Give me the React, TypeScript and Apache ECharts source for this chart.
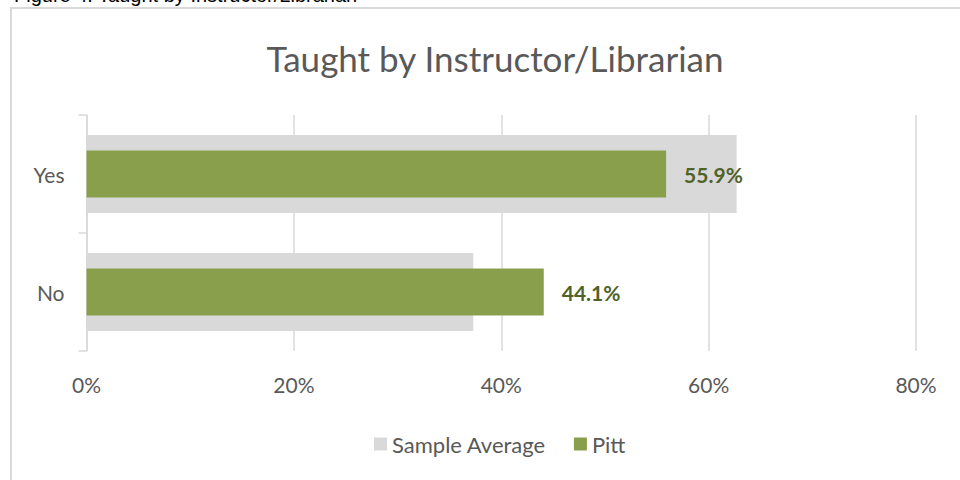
import React, { useEffect, useRef } from "react";
import * as echarts from "echarts";

const categories = ["Yes", "No"];
const sampleAverage = [62.7, 37.3];
const pitt = [55.9, 44.1];
const xTicks = [0, 20, 40, 60, 80];
const chartTitle = "Taught by Instructor/Librarian";
const caption = "Figure 4. Taught by Instructor/Librarian";

const FONT = "Lato, 'Open Sans', sans-serif";
const GREY = "#595959";

export default function App() {
  const ref = useRef<HTMLDivElement>(null);
  useEffect(() => {
    if (!ref.current) return;
    const chart = echarts.init(ref.current, null, { renderer: "svg" });
    const catAxisBase = {
      type: "category",
      data: categories,
      inverse: true,
    };
    chart.setOption({
      animation: false,
      backgroundColor: "#ffffff",
      textStyle: { fontFamily: FONT },
      title: {
        text: chartTitle,
        left: 490,
        top: 35,
        textAlign: "center",
        textStyle: { fontFamily: FONT, fontSize: 35, fontWeight: "normal", color: GREY },
      },
      legend: {
        left: 369,
        top: 428,
        itemWidth: 13,
        itemHeight: 13,
        itemGap: 28,
        icon: "rect",
        textStyle: { fontFamily: FONT, fontSize: 22, color: GREY, padding: [0, 0, 0, 0] },
        data: ["Sample Average", "Pitt"],
      },
      graphic: [
        {
          type: "text",
          left: 14,
          top: -15,
          style: { text: caption, font: "20px 'Liberation Sans', Arial, sans-serif", fill: "#000" },
        },
        {
          type: "rect",
          shape: { x: 11, y: 8, width: 1000, height: 500 },
          style: { fill: "none", stroke: "#d9d9d9", lineWidth: 2 },
          z: -1,
        },
      ],
      grid: { left: 86.5, right: 44, top: 115, bottom: 129 },
      xAxis: {
        type: "value",
        min: xTicks[0],
        max: xTicks[xTicks.length - 1],
        interval: 20,
        axisLine: { show: false },
        axisTick: { show: false },
        axisLabel: {
          formatter: (v: number) => v + "%",
          fontFamily: FONT,
          fontSize: 21,
          color: GREY,
          margin: 23,
        },
        splitLine: { show: true, lineStyle: { color: "#d9d9d9", width: 1.5 } },
      },
      yAxis: [
        {
          ...catAxisBase,
          axisLine: { show: true, lineStyle: { color: "#d9d9d9", width: 1.5 } },
          axisTick: { show: true, length: 8, lineStyle: { color: "#d9d9d9", width: 1.5 } },
          axisLabel: { fontFamily: FONT, fontSize: 21, color: GREY, margin: 22 },
        },
        {
          ...catAxisBase,
          position: "left",
          show: false,
        },
      ],
      series: [
        {
          name: "Sample Average",
          type: "bar",
          yAxisIndex: 0,
          data: sampleAverage,
          barWidth: 78,
          itemStyle: { color: "#d9d9d9" },
          z: 1,
        },
        {
          name: "Pitt",
          type: "bar",
          yAxisIndex: 1,
          data: pitt,
          barWidth: 47,
          itemStyle: { color: "#8a9f4b" },
          z: 2,
          label: {
            show: true,
            position: "right",
            distance: 18,
            formatter: (p: any) => p.value.toFixed(1) + "%",
            fontFamily: FONT,
            fontSize: 21,
            fontWeight: "bold",
            color: "#4f6228",
          },
        },
      ],
    });
    return () => chart.dispose();
  }, []);
  return (
    <div
      ref={ref}
      style={{ position: "fixed", left: 0, top: 0, width: 960, height: 480 }}
    />
  );
}
